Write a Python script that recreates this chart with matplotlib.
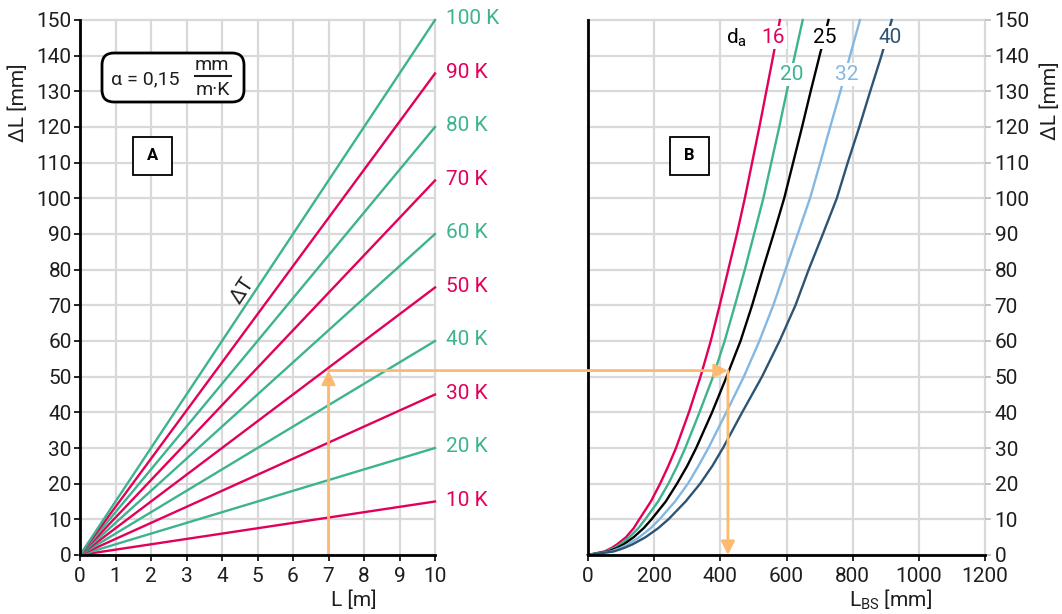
import matplotlib
matplotlib.use('Agg')
import matplotlib.pyplot as plt
from matplotlib.patches import FancyBboxPatch, ConnectionPatch
from matplotlib.lines import Line2D

plt.rcParams['font.family'] = ['Roboto', 'DejaVu Sans']
plt.rcParams['mathtext.fontset'] = 'custom'
plt.rcParams['mathtext.rm'] = 'Roboto'
plt.rcParams['mathtext.it'] = 'Roboto:italic'

# panel A: straight lines from (0,0) to (10 m, value)
dT = [10, 20, 30, 40, 50, 60, 70, 80, 90, 100]
dL_at_10m = [15, 30, 45, 60, 75, 90, 105, 120, 135, 150]
L_end = 10

# panel B: bending leg length for each pipe diameter, read at these dL levels
dL_levels = [0, 1, 2, 3, 5, 7.5, 10, 15, 20, 25, 30, 40, 50, 60, 70, 80, 90, 100,
             110, 120, 130, 140, 150]
lbs_16 = [0, 50, 72, 88, 115, 138, 155, 190, 218, 243, 266, 305, 340, 371, 398, 424,
          450, 474, 496, 518, 539, 560, 580]
lbs_20 = [0, 56, 80, 97, 125, 152, 173, 212, 243, 270, 294, 337, 378, 413, 444, 474,
          502, 530, 554, 578, 601, 625, 649]
lbs_25 = [0, 62, 88, 108, 138, 168, 192, 235, 269, 300, 327, 375, 419, 461, 496, 528,
          561, 593, 620, 647, 673, 700, 727]
lbs_32 = [0, 70, 99, 121, 155, 189, 216, 263, 302, 334, 364, 418, 471, 518, 560, 597,
          634, 671, 702, 732, 763, 792, 822]
lbs_40 = [0, 78, 110, 135, 174, 212, 243, 295, 339, 376, 408, 466, 526, 579, 627, 667,
          710, 752, 785, 820, 853, 887, 918]
diameters = ['16', '20', '25', '32', '40']

# example reading
ex_L = 7
ex_dL = 51.7
ex_lbs = 423

red = '#E2005A'
green = '#3DB38F'
lblue = '#82B8E3'
dblue = '#2D5473'
orange = '#FDBA6F'
grid_c = '#D9D9D9'
txt_c = '#1E1E1E'
fs = 15

W, H = 1062, 614
fig = plt.figure(figsize=(W / 100, H / 100), dpi=100)
axA = fig.add_axes([80 / W, 59 / H, 355 / W, 535 / H])
axB = fig.add_axes([588 / W, 59 / H, 397 / W, 535 / H])


def style(ax):
    ax.set_ylim(0, 150)
    ax.set_yticks(range(0, 151, 10))
    ax.grid(True, color=grid_c, lw=1.6, zorder=0)
    ax.set_axisbelow(True)
    for gl in ax.get_xgridlines() + ax.get_ygridlines():
        gl.set_clip_on(False)
    for s in ['top', 'right']:
        ax.spines[s].set_visible(False)
    for s in ['left', 'bottom']:
        ax.spines[s].set_linewidth(2)
        ax.spines[s].set_zorder(5)
    ax.tick_params(labelsize=fs, labelcolor=txt_c, length=4, width=1.2, pad=2)
    ax.tick_params(axis='x', pad=5)


# ---- panel A ----
style(axA)
axA.set_xlim(0, 10)
axA.set_xticks(range(0, 11))
for i, (t, v) in enumerate(zip(dT, dL_at_10m)):
    c = red if i % 2 == 0 else green
    axA.plot([0, L_end], [0, v], color=c, lw=1.7, zorder=3, clip_on=False)
    axA.text(10.3, v + 0.4, f'{t} K', color=c, fontsize=fs, ha='left', va='center',
             clip_on=False)
axA.text(4.59, 74, 'ΔT', rotation=56, fontsize=fs, ha='center', va='center', color=txt_c)

# ---- panel B ----
style(axB)
axB.set_xlim(0, 1200)
axB.set_xticks(range(0, 1201, 200))
axB.yaxis.tick_right()
axB.tick_params(axis='y', colors='#BBBBBB', labelcolor=txt_c, pad=3)
curves = [lbs_16, lbs_20, lbs_25, lbs_32, lbs_40]
colors = [red, green, 'black', lblue, dblue]
for xs, c in zip(curves, colors):
    axB.plot(xs, dL_levels, color=c, lw=1.7, zorder=3, clip_on=False)

lab_pos = [(559, 145.2), (617, 134.8), (716, 145.2), (783, 134.8), (913, 145.2)]
for d, c, (x, y) in zip(diameters, colors, lab_pos):
    axB.text(x, y, d, color=c, fontsize=fs, ha='center', va='center', zorder=6,
             bbox=dict(boxstyle='square,pad=0.1', fc='white', ec='none'))
axB.text(450, 145, r'd$_{\mathrm{a}}$', fontsize=fs, ha='center', va='center', color='black')

# example arrows
aprops = dict(arrowstyle='-|>', color=orange, lw=2, mutation_scale=20, shrinkA=0, shrinkB=0)
axA.annotate('', xy=(ex_L, ex_dL), xytext=(ex_L, 0), arrowprops=aprops, zorder=4)
axB.annotate('', xy=(ex_lbs, 0), xytext=(ex_lbs, ex_dL), arrowprops=aprops, zorder=4)
con = ConnectionPatch(xyA=(ex_L, ex_dL), coordsA=axA.transData,
                      xyB=(ex_lbs, ex_dL), coordsB=axB.transData, **aprops)
con.set_zorder(4)
fig.add_artist(con)

# alpha box
fig.add_artist(FancyBboxPatch((1.02, 5.12), 1.42, 0.49,
                              boxstyle='round,pad=0,rounding_size=0.12',
                              transform=fig.dpi_scale_trans, fc='white', ec='black', lw=2))
fig.text(111 / W, 1 - 79 / H, 'α = 0,15', fontsize=14, ha='left', va='center', color=txt_c)
fig.text(212 / W, 1 - 65 / H, 'mm', fontsize=14, ha='center', va='center', color=txt_c)
fig.text(213 / W, 1 - 90 / H, 'm·K', fontsize=14, ha='center', va='center', color=txt_c)
fig.add_artist(Line2D([195 / W, 231 / W], [1 - 76 / H, 1 - 76 / H], color=txt_c, lw=1.5))

# A / B boxes
for x0, lab in [(1.33, 'A'), (6.70, 'B')]:
    fig.add_artist(FancyBboxPatch((x0, 4.39), 0.39, 0.38, boxstyle='square,pad=0',
                                  transform=fig.dpi_scale_trans, fc='white', ec='black', lw=1.3))
    fig.text((x0 + 0.195) * 100 / W, (4.39 + 0.19) * 100 / H, lab, fontsize=12,
             fontweight='bold', ha='center', va='center')

# axis labels
fig.text(18 / W, 1 - 103 / H, 'ΔL [mm]', rotation=90, fontsize=fs, ha='center', va='center', color=txt_c)
fig.text(1050 / W, 1 - 101 / H, 'ΔL [mm]', rotation=90, fontsize=fs, ha='center', va='center', color=txt_c)
fig.text(354 / W, 1 - 600 / H, 'L [m]', fontsize=fs, ha='center', va='center', color=txt_c)
fig.text(890 / W, 1 - 600 / H, r'L$_{\mathrm{BS}}$ [mm]', fontsize=fs, ha='center', va='center', color=txt_c)

fig.savefig('out.png', dpi=100)
